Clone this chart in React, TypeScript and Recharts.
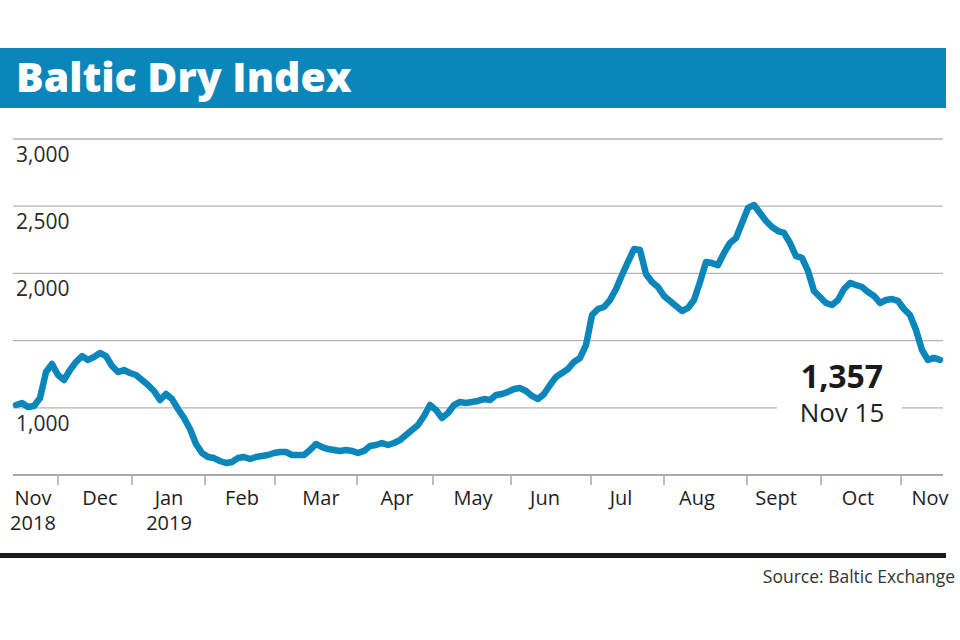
import { LineChart, Line, XAxis, YAxis, CartesianGrid } from 'recharts'

// Baltic Dry Index, one reading every ~2.4 days, mid Nov 2018 to Nov 15 2019
const bdi = [
  1021, 1036, 1006, 1013, 1073, 1266, 1326, 1244, 1207, 1281,
  1341, 1385, 1356, 1378, 1408, 1385, 1311, 1266, 1281, 1259,
  1244, 1207, 1170, 1125, 1058, 1103, 1065, 991, 924, 842,
  731, 664, 634, 626, 604, 589, 597, 626, 634, 619,
  634, 641, 649, 664, 671, 671, 649, 649, 649, 686,
  731, 708, 693, 686, 679, 686, 679, 664, 679, 716,
  723, 738, 723, 738, 760, 798, 835, 872, 939, 1021,
  984, 924, 961, 1021, 1043, 1036, 1043, 1051, 1065, 1058,
  1095, 1103, 1118, 1140, 1147, 1125, 1088, 1065, 1103, 1170,
  1229, 1259, 1289, 1341, 1371, 1467, 1690, 1735, 1750, 1802,
  1884, 1988, 2085, 2181, 2174, 1996, 1936, 1899, 1832, 1795,
  1757, 1720, 1743, 1802, 1936, 2085, 2077, 2062, 2152, 2226,
  2263, 2375, 2487, 2509, 2449, 2390, 2345, 2315, 2301, 2226,
  2129, 2115, 2018, 1869, 1824, 1780, 1765, 1802, 1884, 1929,
  1914, 1899, 1862, 1832, 1780, 1802, 1809, 1795, 1735, 1690,
  1579, 1430, 1356, 1371, 1357,
]

// month boundaries and label centres, in reading index units
const monthTicks = [7, 19.33, 31.5, 43.17, 56.83, 69.5, 82.5, 95.83, 108, 121.83, 134.17, 147.5]
const labelTicks = [2.83, 14, 25.5, 37.67, 50.83, 63.5, 76.17, 88.17, 100.83, 113.5, 126.67, 140.33, 152.33]
const monthLabels = ['Nov', 'Dec', 'Jan', 'Feb', 'Mar', 'Apr', 'May', 'Jun', 'Jul', 'Aug', 'Sept', 'Oct', 'Nov']
const yearLabels = ['2018', '', '2019', '', '', '', '', '', '', '', '', '', '']

const yTicks = [500, 1000, 1500, 2000, 2500, 3000]
const yLabelled = [1000, 2000, 2500, 3000]

const data = bdi.map((v, i) => ({ i, v }))

const BLUE = '#0b86bb'
const FONT = '"Open Sans", "DejaVu Sans", sans-serif'

function XTick(props: any) {
  const { x, y, payload } = props
  const v = payload.value
  const m = monthTicks.indexOf(v)
  if (m >= 0) {
    return <line x1={x} x2={x} y1={y} y2={y + 10} stroke="#a8a8a8" strokeWidth={1.5} />
  }
  const k = labelTicks.indexOf(v)
  if (k < 0) return null
  return (
    <g>
      <text x={x} y={y + 30} textAnchor="middle" fontSize={20} fill="#1e1e1e" fontFamily={FONT}>
        {monthLabels[k]}
      </text>
      {yearLabels[k] && (
        <text x={x} y={y + 55} textAnchor="middle" fontSize={20} fill="#1e1e1e" fontFamily={FONT}>
          {yearLabels[k]}
        </text>
      )}
    </g>
  )
}

function YTick(props: any) {
  const { y, payload } = props
  if (!yLabelled.includes(payload.value)) return <g />
  return (
    <text x={16} y={y + 23} fontSize={21} fill="#2a2a2a" fontFamily={FONT} textAnchor="start">
      {payload.value.toLocaleString('en-US')}
    </text>
  )
}

export default function App() {
  return (
    <div style={{ position: 'absolute', left: 0, top: 0, width: 960, height: 640, background: '#fff' }}>
      <LineChart width={960} height={640} data={data} margin={{ top: 139, right: 17, bottom: 105, left: 0 }}>
        <CartesianGrid vertical={false} stroke="#b4b4b4" strokeWidth={1.3} />
        <XAxis
          dataKey="i"
          type="number"
          domain={[-0.5, 154.5]}
          ticks={[...monthTicks, ...labelTicks].sort((a, b) => a - b)}
          interval={0}
          tickLine={false}
          tickSize={0}
          tickMargin={0}
          height={60}
          axisLine={{ stroke: '#a0a0a0', strokeWidth: 1.5 }}
          tick={<XTick />}
        />
        <YAxis
          domain={[500, 3000]}
          ticks={yTicks}
          interval={0}
          width={13}
          axisLine={false}
          tickLine={false}
          tick={<YTick />}
        />
        <Line
          dataKey="v"
          type="linear"
          stroke={BLUE}
          strokeWidth={6.5}
          strokeLinejoin="round"
          strokeLinecap="round"
          dot={false}
          activeDot={false}
          isAnimationActive={false}
        />
      </LineChart>

      <svg width={960} height={640} style={{ position: 'absolute', left: 0, top: 0, pointerEvents: 'none' }}>
        <rect x={0} y={48} width={946} height={60} fill={BLUE} />
        <text x={16} y={92} fill="#fff" fontSize={41} fontWeight={800} fontFamily={FONT}>
          Baltic Dry Index
        </text>

        <rect x={777} y={398} width={125} height={20} fill="#fff" />
        <text x={842} y={388} textAnchor="middle" fontSize={32} fontWeight={700} fill="#1a1a1a" fontFamily={FONT}>
          1,357
        </text>
        <text x={842} y={422} textAnchor="middle" fontSize={26} fill="#222" fontFamily={FONT}>
          Nov 15
        </text>

        <rect x={0} y={553} width={946} height={5} fill="#1a1a1a" />
        <text x={955} y={583} textAnchor="end" fontSize={17.5} fill="#333" fontFamily={FONT}>
          Source: Baltic Exchange
        </text>
      </svg>
    </div>
  )
}
